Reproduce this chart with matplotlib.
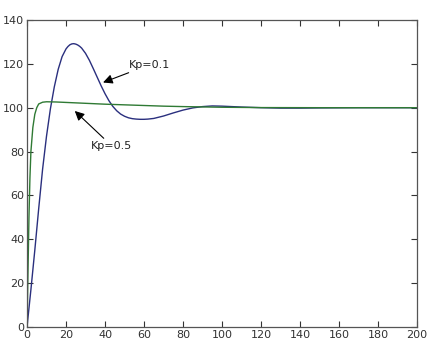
import matplotlib
matplotlib.use("Agg")
import matplotlib.pyplot as plt

# Kp = 0.1 response (blue)
t_blue = [0, 2, 4, 6, 8, 10, 12, 14, 16, 18, 20, 21, 22, 23, 24, 25, 26, 27, 28, 30,
          32, 34, 36, 38, 40, 42, 44, 46, 48, 50, 52, 54, 56, 58, 60, 62, 65, 70, 75,
          80, 85, 90, 95, 100, 110, 120, 130, 140, 150, 170, 200]
y_blue = [0, 17, 35, 54, 72, 87, 99.5, 109.5, 117.5, 123.3, 126.8, 127.9, 128.7, 129.1,
          129.2, 129.0, 128.6, 128.0, 127.2, 124.8, 121.6, 117.8, 113.9, 110.0, 106.4,
          103.2, 100.6, 98.6, 97.1, 96.1, 95.4, 95.0, 94.8, 94.7, 94.7, 94.8, 95.1,
          96.2, 97.6, 98.9, 99.9, 100.5, 100.8, 100.7, 100.3, 100.0, 99.8, 99.8, 99.9,
          100, 100]

# Kp = 0.5 response (green)
t_green = [0, 0.5, 1, 1.5, 2, 3, 4, 5, 6, 8, 10, 15, 20, 30, 40, 50, 60, 70, 80, 100,
           120, 150, 200]
y_green = [0, 25, 50, 68, 80, 91, 97, 100, 101.7, 102.5, 102.7, 102.6, 102.4, 102,
           101.6, 101.3, 101, 100.7, 100.5, 100.2, 100.05, 100, 100]

xticks = [0, 20, 40, 60, 80, 100, 120, 140, 160, 180, 200]
yticks = [0, 20, 40, 60, 80, 100, 120, 140]

fig = plt.figure(figsize=(4.37, 3.55), dpi=100)
ax = fig.add_axes([0.0618, 0.079, 0.8924, 0.8647])

ax.plot(t_blue, y_blue, color="#2a2f7e", lw=1.0)
ax.plot(t_green, y_green, color="#2f7a34", lw=1.0)

ax.set_xlim(0, 200)
ax.set_ylim(0, 140)
ax.set_xticks(xticks)
ax.set_yticks(yticks)
ax.tick_params(direction="in", length=4, width=0.8, top=True, right=True,
               labelsize=8, colors="#333333", pad=2)
for s in ax.spines.values():
    s.set_color("#555555")
    s.set_linewidth(0.9)

ax.annotate("Kp=0.1", xy=(39, 111.5), xytext=(52, 119.5), fontsize=8, color="#222222",
            va="center", ha="left",
            arrowprops=dict(arrowstyle="-|>", color="black", lw=0.8, mutation_scale=14,
                            shrinkA=0, shrinkB=0))
ax.annotate("Kp=0.5", xy=(24.5, 98.5), xytext=(33, 82.5), fontsize=8, color="#222222",
            va="center", ha="left",
            arrowprops=dict(arrowstyle="-|>", color="black", lw=0.8, mutation_scale=14,
                            shrinkA=0, shrinkB=0))

fig.savefig("out.png", dpi=100, facecolor="white")
